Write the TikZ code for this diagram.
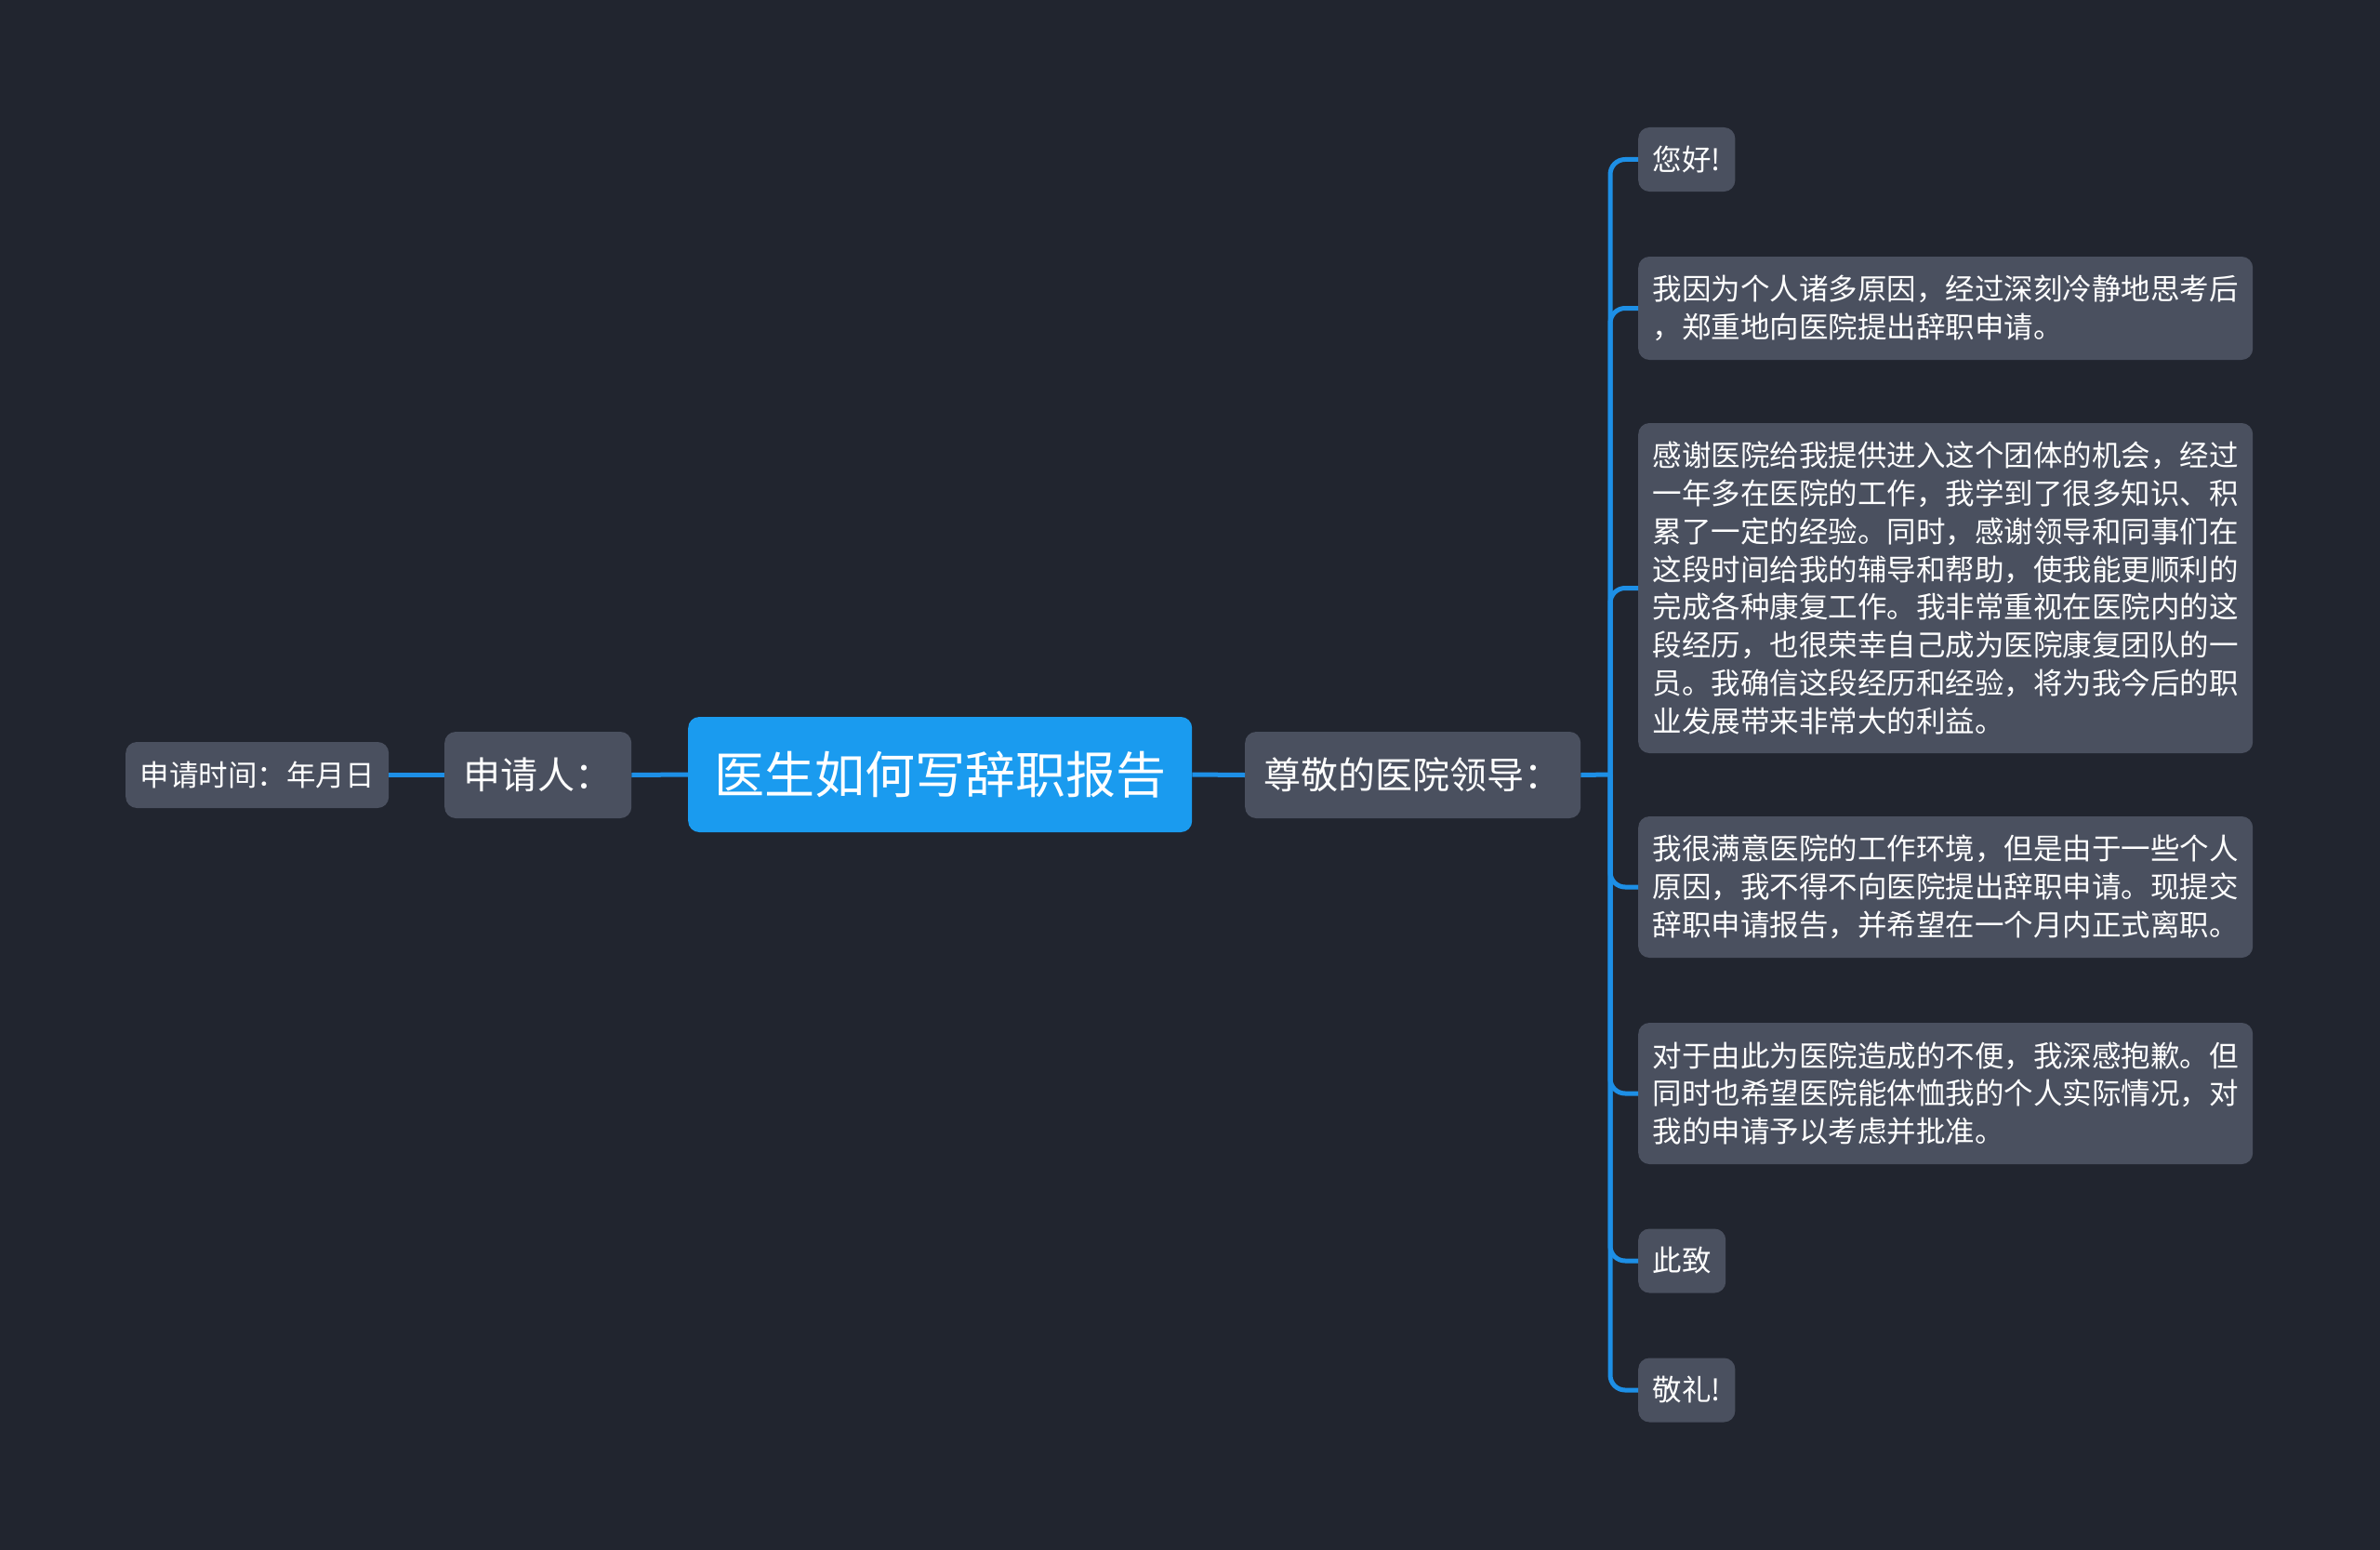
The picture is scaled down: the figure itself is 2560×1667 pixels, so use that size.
\documentclass[tikz,border=0pt]{standalone}
\usepackage{fontspec}
\setmainfont{Noto Sans CJK SC}
\usetikzlibrary{positioning,calc}
\definecolor{bgdark}{HTML}{21252F}
\definecolor{nodegray}{HTML}{4A505F}
\definecolor{rootblue}{HTML}{1A9BEF}
\definecolor{linkblue}{HTML}{1D8FE6}

\begin{document}
\begin{tikzpicture}[
    x=1pt, y=-1pt,
    every node/.style={text=white},
    box/.style={rectangle, fill=nodegray, rounded corners=12pt, inner ysep=0pt, anchor=west},
    leaf/.style={box, inner xsep=15.5pt, align=left, font=\fontsize{31.5}{40.8}\selectfont},
    branch/.style={box, inner xsep=20.5pt, minimum height=93pt, font=\fontsize{40}{48}\selectfont},
    link/.style={draw=linkblue, line width=5pt},
    elbowlink/.style={link, rounded corners=16pt}
]

% Background
\fill[bgdark] (0,0) rectangle (2560,1667);
\useasboundingbox (0,0) rectangle (2560,1667);

% Main components
\node[box, fill=rootblue, inner xsep=28pt, minimum height=124pt, font=\fontsize{54}{60}\selectfont] (root) at (740,833) {医生如何写辞职报告};
\node[branch] (applicant) at (478,833.5) {申请人：};
\node[leaf, minimum height=71pt] (date) at (135,833.5) {申请时间：年月日};
\node[branch] (leader) at (1339,833.5) {尊敬的医院领导：};

% Letter body
\node[leaf, minimum height=69pt] (hello) at (1762,171.5) {您好!};
\node[leaf, minimum height=111pt] (reason) at (1762,331.5) {我因为个人诸多原因，经过深刻冷静地思考后\\，郑重地向医院提出辞职申请。};
\node[leaf, minimum height=355pt] (thanks) at (1762,632.5) {感谢医院给我提供进入这个团体的机会，经过\\一年多在医院的工作，我学到了很多知识、积\\累了一定的经验。同时，感谢领导和同事们在\\这段时间给我的辅导和帮助，使我能更顺利的\\完成各种康复工作。我非常重视在医院内的这\\段经历，也很荣幸自己成为医院康复团队的一\\员。我确信这段经历和经验，将为我今后的职\\业发展带来非常大的利益。};
\node[leaf, minimum height=152pt] (wish) at (1762,954) {我很满意医院的工作环境，但是由于一些个人\\原因，我不得不向医院提出辞职申请。现提交\\辞职申请报告，并希望在一个月内正式离职。};
\node[leaf, minimum height=152pt] (sorry) at (1762,1176) {对于由此为医院造成的不便，我深感抱歉。但\\同时也希望医院能体恤我的个人实际情况，对\\我的申请予以考虑并批准。};
\node[leaf, minimum height=69pt] (closing) at (1762,1356) {此致};
\node[leaf, minimum height=69pt] (regards) at (1762,1495) {敬礼!};

% Connectors
\draw[link] (date.east) -- (applicant.west);
\draw[link] (applicant.east) -- (root.west);
\draw[link] (root.east) -- (leader.west);
\coordinate (trunk) at (1732,833);
\draw[link] (leader.east) -- (trunk);
\draw[elbowlink] (trunk) |- (hello.west);
\draw[elbowlink] (trunk) |- (reason.west);
\draw[elbowlink] (trunk) |- (thanks.west);
\draw[elbowlink] (trunk) |- (wish.west);
\draw[elbowlink] (trunk) |- (sorry.west);
\draw[elbowlink] (trunk) |- (closing.west);
\draw[elbowlink] (trunk) |- (regards.west);

\end{tikzpicture}
\end{document}
